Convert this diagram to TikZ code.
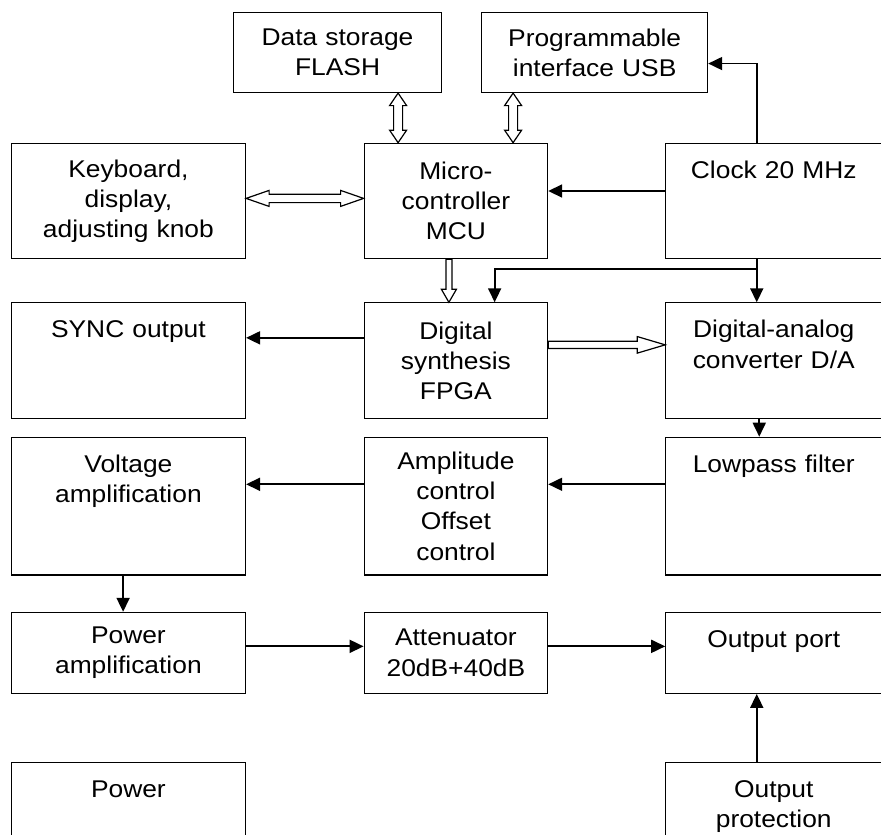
\documentclass[tikz,border=0pt]{standalone}
\usepackage{fontspec}
\setmainfont{Liberation Sans}[FakeStretch=1.09]
\usetikzlibrary{positioning, arrows.meta, calc}

\newcommand{\blkfont}{\fontsize{24.2pt}{30.2pt}\selectfont}
% hollow arrows: #1 shaft half width, #2 head half width, #3 head length, #4 from, #5 to
\newcommand{\fatarrow}[5]{%
  \path (#4) coordinate (fa-a) (#5) coordinate (fa-b);
  \coordinate (fa-c) at ($(fa-b)!#3!(fa-a)$);
  \draw[hollow] ($(fa-a)!#1!90:(fa-b)$) -- ($(fa-c)!#1!90:(fa-b)$) -- ($(fa-c)!#2!90:(fa-b)$) -- (fa-b)
    -- ($(fa-c)!#2!-90:(fa-b)$) -- ($(fa-c)!#1!-90:(fa-b)$) -- ($(fa-a)!#1!-90:(fa-b)$) -- cycle;}
\newcommand{\fatdarrow}[5]{%
  \path (#4) coordinate (fa-a) (#5) coordinate (fa-b);
  \coordinate (fa-c) at ($(fa-b)!#3!(fa-a)$);
  \coordinate (fa-d) at ($(fa-a)!#3!(fa-b)$);
  \draw[hollow] (fa-a) -- ($(fa-d)!#2!90:(fa-b)$) -- ($(fa-d)!#1!90:(fa-b)$) -- ($(fa-c)!#1!90:(fa-b)$)
    -- ($(fa-c)!#2!90:(fa-b)$) -- (fa-b) -- ($(fa-c)!#2!-90:(fa-b)$) -- ($(fa-c)!#1!-90:(fa-b)$)
    -- ($(fa-d)!#1!-90:(fa-b)$) -- ($(fa-d)!#2!-90:(fa-b)$) -- cycle;}

\tikzset{
  blk/.style={draw, line width=1.1pt, inner sep=0pt, align=center, font=\blkfont},
  lcol/.style={blk, minimum width=234.3pt, text width=222pt},
  mcol/.style={blk, minimum width=183.5pt, text width=172pt},
  rcol/.style={blk, minimum width=216pt, text width=204pt},
  toptxt/.style={text height=35pt, text depth=#1},
  arr/.style={line width=1.8pt, -{Triangle[length=14pt,width=13pt]}},
  hollow/.style={draw, fill=white, line width=1.2pt, line join=miter}
}

\begin{document}
\begin{tikzpicture}
\useasboundingbox (0,0) rectangle (881pt,-835pt);

% top row
\node[blk, anchor=north west, minimum width=208pt, text width=196pt, minimum height=80pt] (flash) at (233pt,-12pt) {Data storage\\FLASH};
\node[blk, minimum width=226pt, text width=214pt, minimum height=80pt, right=39pt of flash] (usb) {Programmable\\interface USB};

% control row
\node[lcol, anchor=north west, minimum height=115.5pt] (kbd) at (10.7pt,-142.7pt) {Keyboard,\\display,\\adjusting knob};
\node[mcol, minimum height=115.5pt, right=117.5pt of kbd] (mcu) {Micro-\\controller\\MCU};
\node[rcol, toptxt=80.5pt, right=117pt of mcu] (clock) {Clock 20 MHz};

% synthesis row
\node[lcol, toptxt=81pt, below=43pt of kbd] (sync) {SYNC output};
\node[mcol, minimum height=116pt, below=43pt of mcu] (fpga) {Digital\\synthesis\\FPGA};
\node[rcol, toptxt=81pt, below=43pt of clock] (da) {Digital-analog\\converter D/A};

% analog row
\node[lcol, toptxt=102.7pt, below=17.3pt of sync] (volt) {Voltage\\amplification};
\node[mcol, minimum height=137.7pt, below=17.3pt of fpga] (ampl) {Amplitude\\control\\Offset\\control};
\node[rcol, toptxt=102.7pt, below=17.3pt of da] (lp) {Lowpass filter};

% output row
\node[lcol, minimum height=81pt, below=36.3pt of volt] (pamp) {Power\\amplification};
\node[mcol, minimum height=81pt, below=36.3pt of ampl] (att) {Attenuator\\20dB+40dB};
\node[rcol, toptxt=46pt, below=36.3pt of lp] (outp) {Output port};

% bottom row
\node[lcol, toptxt=42.3pt, below=67.7pt of pamp] (pwr) {Power};
\node[rcol, toptxt=42.3pt, below=67.7pt of outp] (prot) {Output\\protection};

% data buses
\fatdarrow{4.5pt}{8.5pt}{12.5pt}{[xshift=-44pt]flash.south east}{[xshift=-44pt]flash.south east |- mcu.north}
\fatdarrow{4.5pt}{8.5pt}{12.5pt}{[xshift=32pt]usb.south west}{[xshift=32pt]usb.south west |- mcu.north}
\fatdarrow{4.2pt}{8pt}{23pt}{[yshift=2.6pt]kbd.east}{[yshift=2.6pt]kbd.east -| mcu.west}
\fatarrow{3pt}{7.5pt}{13pt}{[xshift=-7pt]mcu.south}{[xshift=-7pt]mcu.south |- fpga.north}
\fatarrow{3.7pt}{8.3pt}{28pt}{[yshift=16pt]fpga.east}{[yshift=16pt]fpga.east -| da.west}

% clock
\draw[arr] ([yshift=10pt]clock.west) -- ([yshift=10pt]clock.west -| mcu.east);
\draw[arr] ([xshift=-17pt]clock.north) |- ([yshift=-11pt]usb.east);
\draw[arr] ([xshift=-17pt]clock.south) -- ([xshift=-17pt]clock.south |- da.north);
\draw[arr] ([xshift=-17pt,yshift=-10pt]clock.south) -| ([xshift=38.75pt]fpga.north);

% signal path
\draw[arr] ([yshift=23pt]fpga.west) -- ([yshift=23pt]fpga.west -| sync.east);
\draw[arr] ([xshift=-14.5pt]da.south) -- ([xshift=-14.5pt]da.south |- lp.north);
\draw[arr] ([yshift=21.8pt]lp.west) -- ([yshift=21.8pt]lp.west -| ampl.east);
\draw[arr] ([yshift=21.8pt]ampl.west) -- ([yshift=21.8pt]ampl.west -| volt.east);
\draw[arr] ([xshift=-5.3pt]volt.south) -- ([xshift=-5.3pt]volt.south |- pamp.north);
\draw[arr] ([yshift=6.5pt]pamp.east) -- ([yshift=6.5pt]pamp.east -| att.west);
\draw[arr] ([yshift=6.5pt]att.east) -- ([yshift=6.5pt]att.east -| outp.west);
\draw[arr] ([xshift=-17pt]prot.north) -- ([xshift=-17pt]prot.north |- outp.south);
\end{tikzpicture}
\end{document}
